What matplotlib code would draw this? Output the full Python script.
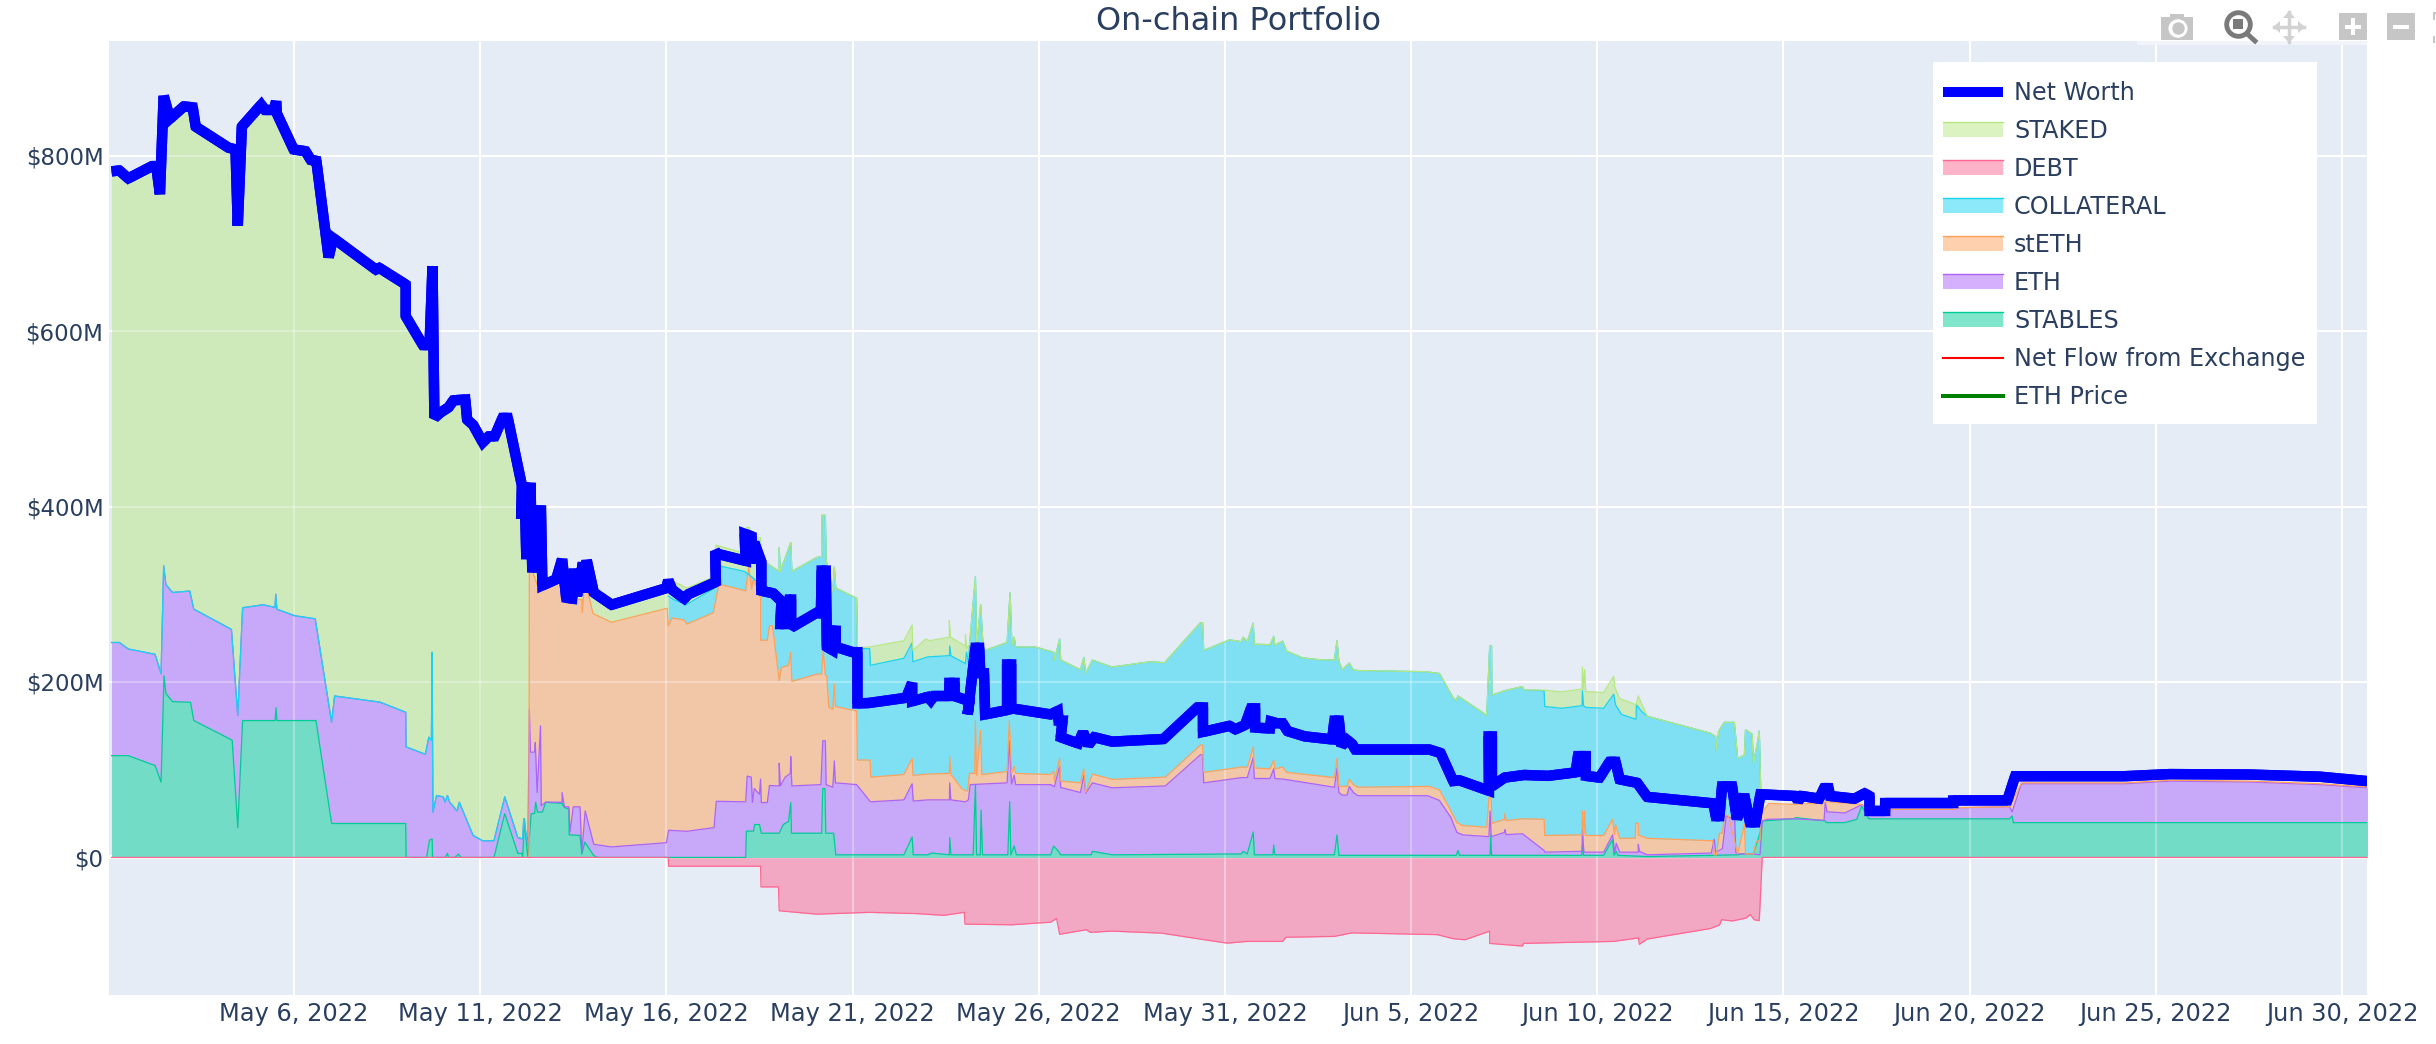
import numpy as np
import matplotlib
matplotlib.use('Agg')
import matplotlib.pyplot as plt
import matplotlib.dates as mdates
from matplotlib.legend_handler import HandlerBase
from matplotlib.lines import Line2D
from matplotlib.patches import Rectangle, Polygon

# all x values are days since May 1 2022, all y values are $M
net_worth_days = [0.1,0.31,0.55,1.19,1.3,1.4,1.5,1.67,2.04,2.28,2.36,3.24,3.43,3.49,3.6,4.12,4.22,4.46,4.52,4.54,4.99,5.31,5.45,5.6,5.93,6.05,7.2,7.29,8.0,8.0,8.46,8.64,8.72,8.77,8.93,9.15,9.28,9.6,9.65,9.81,10.07,10.23,10.39,10.6,10.74,11.12,11.1,11.19,11.24,11.35,11.4,11.48,11.54,11.63,11.67,12.04,12.2,12.31,12.47,12.52,12.6,12.76,12.84,12.86,13.05,13.53,15.0,15.05,15.16,15.48,15.59,16.33,16.31,16.38,17.13,17.1,17.29,17.29,17.36,17.55,17.55,17.87,18.09,18.06,18.17,18.3,18.35,18.35,19.04,19.15,19.17,19.28,19.31,19.47,19.55,19.55,20.0,20.13,20.13,20.43,21.44,21.6,21.6,22.02,22.1,22.18,22.6,22.6,22.74,22.74,23.14,23.09,23.3,23.4,23.43,23.53,23.56,24.15,24.15,24.26,24.26,25.32,25.51,25.53,25.64,25.59,26.06,26.19,26.33,26.49,26.97,28.35,29.26,29.41,29.41,30.12,30.28,30.54,30.7,30.81,30.81,31.21,31.23,31.39,31.55,31.68,32.14,32.88,32.94,33.06,33.13,33.28,33.42,33.5,35.49,35.79,36.13,36.29,37.09,37.08,37.17,37.17,37.51,38.04,38.68,39.42,39.48,39.69,39.69,40.06,40.33,40.49,40.6,41.07,41.34,43.12,43.18,43.28,43.35,43.62,43.75,43.94,44.1,44.25,44.38,45.33,45.39,45.49,45.96,46.09,46.21,46.25,46.91,47.18,47.31,47.31,47.73,47.73,49.56,49.56,51.01,51.22,54.17,55.37,57.51,59.41,60.68]
net_worth = [782,783,774,788,788,756,868,842,856,855,833,809,807,720,833,858,852,852,862,848,807,805,795,794,684,706,670,672,653,617,584,584,674,501,507,513,521,522,499,493,473,480,480,501,501,424,386,427,340,427,325,382,329,401,310,317,340,296,295,329,298,336,302,339,302,288,307,316,305,295,300,314,349,346,338,369,366,335,359,337,304,301,292,266,266,294,294,262,279,278,327,327,240,236,264,240,234,234,175.6,176,182,199,178,183,179,184,184,199,199,184,178,163,239,239,210,210,163,168,220,220,170,163,167,156,156,137,130,143,128,137,132,135,171,171,143,150,146,151,170,170,148,147,155,153,153,144,138,134.5,156,156,127,134,129,123,123,119,87,88,76,138,138,81,91,94,93,97,115.5,115.5,93,91,109,109,89,85,69,61.6,47,47,81,81,43.5,72,40,40,72,70,64,70,67,79,79,70,67,73,70,53,53,62,62,65,65,92.6,92.6,95,94.5,92,87]

# tops of the stacked bands
staked_days = [15.05,15.37,15.55,16.28,16.33,17.15,17.15,17.23,17.29,17.53,17.55,17.71,18.03,18.03,18.06,18.34,18.37,19.04,19.17,19.18,19.27,19.29,19.47,19.51,19.55,20.11,20.13,20.48,21.38,21.6,21.62,21.97,22.07,22.6,22.6,22.63,23.03,23.03,23.06,23.14,23.3,23.33,23.44,23.51,23.56,24.15,24.23,24.28,24.34,24.38,24.89,25.4,25.42,25.56,25.59,26.12,26.21,26.26,26.44,26.97,27.98,28.38,29.34,29.4,29.43,30.12,30.44,30.49,30.6,30.76,30.79,31.21,31.31,31.34,31.55,31.66,32.09,32.51,32.94,33.01,33.06,33.15,33.34,33.45,33.6,35.38,35.76,36.13,36.21,36.26,37.03,37.11,37.16,37.17,37.51,37.99,38.02,38.57,39.05,39.59,39.6,39.63,39.66,39.69,40.17,40.44,40.47,40.6,41.04,41.1,41.34,43.04,43.18,43.19,43.26,43.41,43.68,43.77,43.95,43.98,44.16,44.19,44.3,44.35,44.39,44.43]
staked_top = [316,311,307,320,356,346,376,376,362,364.5,337,335,326,353,326,359,326,342,343,390,390,339,303,331,307,295.5,239,240,247,265,236,249,247,251,270,251,241,254,238,242.5,320,240,288,238,236,245,301.5,242,251,240,240,234,225,249,225,214,228,210,225,217,223,222,267.5,267.5,236,248,246,251,246,267,243,242.5,252,242,246.5,235,227.5,225.5,225,247,223.5,214,221.5,213.6,213,211.7,209.7,182,179,184,162,241,241,185,190,194.7,191,190.7,188.7,192,217,192,214,189,188,206.5,194,181,174,184,161,141.6,137.7,122,144,154,154,112.8,116.7,145.6,140.5,106.8,130.6,144,75,61]

# stretches where the cyan band sits below the green one
collateral_days_a = [15.05,15.2,15.53,16.26,16.35,17.1,17.29,17.5]
collateral_top_a = [298,294,288,306,333,326,320,312]
collateral_days_b = [20.13,20.46,20.48,21.38,21.6,21.62,22.02,22.6,22.61,22.64,23.03,23.06,23.12]
collateral_top_b = [238,238,219,227,244.6,223,228.6,230,241,230,221,234,221]
collateral_days_c = [38.57,38.59,39.05,39.59,39.6,39.63,39.69,40.17,40.44,40.49,40.65,41.04,41.05,41.2]
collateral_top_c = [190,172,170,173,190,173,171,170,186,174,163,157.5,174,166]

steth_days = [11.31,11.32,11.54,12.04,12.2,12.29,12.73,12.74,12.81,13.03,13.53,15.02,15.05,15.16,15.48,15.55,16.26,16.41,17.13,17.21,17.29,17.34,17.53,17.53,17.71,17.77,17.85,18.03,18.09,18.28,18.34,18.37,19.04,19.17,19.21,19.27,19.31,19.36,19.47,19.51,19.54,20.11,20.13,20.47,20.49,21.38,21.6,21.62,22.02,22.6,22.61,22.64,22.93,23.03,23.09,23.14,23.28,23.3,23.33,23.44,23.47,24.15,24.21,24.27,24.34,24.38,25.32,25.4,25.42,25.56,25.59,26.12,26.21,26.26,26.44,26.97,28.4,29.34,29.4,29.43,30.12,30.44,30.6,30.76,30.79,31.21,31.31,31.34,31.55,31.66,32.94,33.01,33.06,33.28,33.34,33.45,33.57,35.49,35.76,36.02,36.23,36.39,37.03,37.09,37.15,37.17,37.51,37.52,37.55,37.99,38.57,38.59,39.59,39.6,39.64,39.66,39.69,40.17,40.41,40.46,40.49,40.6,41.02,41.03,41.1,41.1,41.34,43.1,43.15,43.2,43.28,43.36,43.41,43.52,43.77,43.95,43.98,44.19,44.27,44.37,44.38,44.61,45.27,46.09,46.12,47.1,47.29,47.85,49.62,49.66,51.07,51.39,54.17,55.37,57.51,59.41,60.68]
steth_top = [0,336,310,317,321,294,294,279,317,278,268,284,264,273,270.5,266,279,311.5,304,331,306,318,296,247.6,247.6,264,264,201.5,216.6,218.7,234,200.6,209,209,236,208,206,171,169,198,172,167,111,111,91.5,94.5,113,93.6,95,95.8,115,95,78.5,76,76,95.8,95.8,156,93.6,145,94.5,98,156,95.8,104,95.8,94.5,98,87,113,87,85,101,74,95,89,91.5,128,128,97,101,103,103,126,102,101,111,101,103,97,91,113,81,81,89,83,80,81,77,57,39.6,36.4,34.4,68,68,38.8,43.5,50.6,42,44,43.5,25,25.7,53,25.7,53,25,25,43.5,26,37.6,21.8,21.8,38.8,38.8,25.7,21.8,19,3,3,27.7,27.7,47.5,47.5,4,37.6,4,4,18,20,49,61.6,60.5,62,63.5,60.5,54.8,54.8,54.8,56.7,57.8,85,85,88,87,84,80.4]

eth_days = [0.1,0.31,0.55,1.27,1.43,1.5,1.56,1.74,2.2,2.31,3.32,3.49,3.62,4.17,4.49,4.51,4.54,5.02,5.57,6.01,6.09,7.31,8.0,8.01,8.53,8.62,8.69,8.71,8.73,8.83,9.01,9.06,9.12,9.18,9.38,9.44,9.81,10.07,10.37,10.66,11.01,11.14,11.17,11.28,11.32,11.35,11.46,11.48,11.53,11.62,11.64,11.76,12.2,12.2,12.26,12.38,12.41,12.5,12.68,12.73,12.82,13.05,13.53,15.0,15.06,15.55,16.28,16.34,17.13,17.17,17.28,17.31,17.36,17.5,17.53,17.55,17.71,17.77,18.03,18.03,18.06,18.19,18.33,18.34,18.37,19.15,19.2,19.27,19.29,19.47,19.51,19.54,20.11,20.48,21.38,21.6,21.63,22.02,22.6,22.61,22.64,23.03,23.11,23.16,24.15,24.21,24.27,24.34,24.38,25.32,25.42,25.56,25.59,26.12,26.21,26.26,26.44,26.97,28.4,29.34,29.4,29.43,30.12,30.44,30.6,30.76,30.79,31.21,31.31,31.34,31.61,32.94,33.01,33.06,33.15,33.28,33.34,33.45,33.57,35.44,35.76,36.07,36.23,36.39,37.09,37.12,37.15,37.51,37.52,37.55,37.99,38.57,38.59,39.59,39.6,39.64,39.69,40.17,40.41,40.47,40.51,40.6,41.1,41.1,41.13,41.34,43.06,43.14,43.18,43.36,43.46,43.69,43.72,43.77,44.19,44.37,44.43,44.57,45.27,46.09,46.12,46.17,46.65,47.03,47.1,47.29,47.85,49.62,49.66,51.07,51.14,51.39,54.17,55.37,57.51,59.41,60.68]
eth_top = [245,245,237.6,231.5,209.5,332.5,311,302,303.6,283,260,161.7,284.6,288,285,300,283,275.5,272,154,184,177,165.5,126,117.6,137,133.6,233.8,51.6,70.6,69,63,70.6,63,53,63,25,19,19,69,22.8,21,44,13.7,169,120,120,131,74,150,59,63,63,74,57.7,57.7,29,57.7,57.7,6,53,15,12,16.8,31,29.8,34,64,63.4,92.8,91.5,62.6,78.5,72,89.3,62.6,62.6,82,81.5,107.4,81.5,91.5,95.8,115,81.5,83,133,133,83,80,110,85,83,63.4,65.6,84,64.3,65.6,65.6,85,65.6,63.4,65.6,83,85,133,83.7,93.6,83,83,80.7,104,79.8,74,93.6,73,85,79.4,81.5,117,117,85,89,91,91,114,90,90,101,90,89,80,102,74,71,71,81,74,70.4,70.4,65,45.5,28.5,25.7,23.7,53,23.7,28.5,31.6,26,27,8,6,7,31.6,6,6,6,25.7,6,16,6,6,15,7,3,5,20.8,6,10,47,43.5,5.7,4,4,3,41.5,43.5,44,42.3,63,52,50.7,58.6,60.5,54.8,54.8,54.8,56.7,57.8,52,84,84,87,86,83,79.4]

stables_days = [0.1,0.55,1.27,1.43,1.51,1.56,1.74,2.22,2.31,3.34,3.49,3.62,4.49,4.52,4.54,5.59,6.01,8.0,8.01,8.56,8.64,8.71,8.72,9.06,9.12,9.15,9.33,9.41,9.49,10.37,10.66,11.01,11.12,11.14,11.19,11.22,11.28,11.37,11.46,11.49,11.54,11.67,11.76,12.2,12.26,12.38,12.39,12.68,12.73,12.81,13.05,13.16,17.13,17.15,17.34,17.37,17.5,17.55,18.03,18.14,18.28,18.34,18.36,19.17,19.2,19.26,19.28,19.49,19.55,21.38,21.6,21.63,22.02,22.13,22.6,22.61,22.64,23.24,23.3,23.33,23.43,23.45,23.49,24.17,24.22,24.25,24.34,24.4,25.32,25.4,25.53,25.59,26.41,26.44,26.97,29.87,30.44,30.49,30.6,30.76,30.79,31.29,31.31,31.34,32.94,33.01,33.06,36.21,36.26,36.3,37.12,37.14,37.16,39.58,39.6,39.63,40.17,40.41,40.45,40.51,40.55,41.34,43.77,43.89,44.19,44.32,44.38,44.44,45.27,45.33,46.12,46.15,46.65,46.97,47.1,47.29,51.07,51.14,51.17,60.68]
stables_top = [116,116,104.7,85.8,207,186.7,177.6,176.8,156,133.6,34,156,156,170.8,156,156,38.7,38.7,0,0,19.7,21,0,0,4.6,0,0,3.8,0,0,50,4.6,4.6,0,44,25,0,50,50,63,51.6,51.6,63,61.5,57,55,25.8,25,3.8,17.5,2,0,0,30,30,37.5,37.5,27.6,27.6,37.5,41,62.6,27.6,27.6,78.5,78.5,27.6,27.6,3,3,23.3,3,3,5,3,22.4,3,3,83,3,3,54,3,3,63.4,3,13,3,3,13,7,3,3,7,3,3.9,4,7,4,29,3,3,14,3,3,25.7,2.4,2.4,8,2.4,2.4,25.7,2.4,2.4,14,2.4,2.4,20.6,2.4,7,2.4,1,3,4,4,21,30,41.6,44,45.4,41.6,39.7,39.7,43.5,58.6,44,44,47.3,39.7,39.7]

debt_days = [0.1,15.05,15.06,17.53,17.54,18.01,18.03,19.04,20.43,21.7,22.45,23.0,23.02,24.26,25.32,25.48,25.56,26.28,26.38,26.97,28.3,29.32,30.06,30.6,31.55,31.64,32.94,33.41,35.7,36.13,36.45,37.11,37.11,37.99,38.02,40.44,41.1,41.13,41.34,43.04,43.28,43.34,43.63,44.0,44.11,44.21,44.35,44.43,60.68]
debt = [0,0,-10,-10,-33.6,-33.6,-60.8,-64.7,-62.6,-64,-66,-62.6,-76,-76.8,-73.8,-69.5,-87.6,-82.4,-85.4,-84,-86.3,-93,-97.7,-95.7,-95.7,-91,-90,-86,-88,-92.6,-93.8,-84,-98,-101,-98,-95.7,-91.8,-99,-93,-81,-77,-71,-72.4,-69,-65,-71,-72,0,0]

tick_days = [5,10,15,20,25,30,35,40,45,50,55,60]
tick_labels = ['May 6, 2022','May 11, 2022','May 16, 2022','May 21, 2022','May 26, 2022','May 31, 2022',
               'Jun 5, 2022','Jun 10, 2022','Jun 15, 2022','Jun 20, 2022','Jun 25, 2022','Jun 30, 2022']
y_ticks = [0,200,400,600,800]
y_labels = ['$0','$200M','$400M','$600M','$800M']

BG = '#E5ECF6'
TEXT = '#2a3f5f'
W, H = 2436, 1044
base = mdates.date2num(np.datetime64('2022-05-01'))


def piece(days, vals, a, b):
    days = np.array(days)
    keep = (days >= a) & (days <= b)
    return list(days[keep]), list(np.array(vals)[keep])


def mix(color, under=BG):
    # plotly fills at half opacity
    return tuple((np.array(matplotlib.colors.to_rgb(color)) + np.array(matplotlib.colors.to_rgb(under))) / 2)


def band(ax, days, top, color):
    ax.fill_between(base + np.array(days), 0, top, color=mix(color), lw=0, zorder=2)


def split_sharp(ax, x, y):
    # the browser falls back to a bevel below 60 degrees: break the path there
    p = ax.transData.transform(np.column_stack([x, y]))
    xs, ys = [x[0]], [y[0]]
    for i in range(1, len(x)):
        xs.append(x[i])
        ys.append(y[i])
        if i < len(x) - 1:
            a = p[i - 1] - p[i]
            b = p[i + 1] - p[i]
            n = np.hypot(*a) * np.hypot(*b)
            if n > 0 and np.dot(a, b) / n > 0.5:
                xs += [np.nan, x[i]]
                ys += [np.nan, y[i]]
    return xs, ys


class BandHandler(HandlerBase):
    def create_artists(self, legend, orig, xd, yd, width, height, fontsize, trans):
        rect = Rectangle((-xd, -yd), width, height, facecolor=orig.get_facecolor(), lw=0, transform=trans)
        top = Line2D([-xd, width - xd], [height - yd] * 2, color=orig.get_edgecolor(), lw=1.0, transform=trans)
        return [rect, top]


fig = plt.figure(figsize=(W / 100, H / 100), dpi=100)
ax = fig.add_axes([109 / W, 1 - 995 / H, (2367 - 109) / W, (995 - 41) / H], facecolor=BG)
ax.set_xlim(base + 0.032, base + 60.67)
ax.set_ylim(-156.8, 930.6)

# stacked bands, painted from the tallest down
d1, v1 = piece(net_worth_days, net_worth, 0, 15.0)
full_staked = (d1 + staked_days, v1 + staked_top)
da, va = piece(staked_days, staked_top, 17.55, 20.11)
db, vb = piece(staked_days, staked_top, 23.14, 38.55)
dc, vc = piece(staked_days, staked_top, 41.3, 44.43)
full_collateral = (collateral_days_a + da + collateral_days_b + db + collateral_days_c + dc,
                   collateral_top_a + va + collateral_top_b + vb + collateral_top_c + vc)
band(ax, *full_staked, '#B6E880')
band(ax, *full_collateral, '#19D3F3')
band(ax, steth_days, steth_top, '#FFA15A')
band(ax, eth_days, eth_top, '#AB63FA')
band(ax, stables_days, stables_top, '#00CC96')

# edges go after all fills so the upper series wins where bands have no thickness
for (dd, vv), c in [((stables_days, stables_top), '#00CC96'), ((eth_days, eth_top), '#AB63FA'),
                    ((steth_days, steth_top), '#FFA15A'), (full_collateral, '#19D3F3'), (full_staked, '#B6E880')]:
    ax.plot(base + np.array(dd), vv, color=c, lw=0.9, zorder=2.1)
early_d, early_v = piece(eth_days, eth_top, 0, 11.3)
ax.plot(base + np.array(early_d), early_v, color='#19D3F3', lw=0.9, zorder=2.1)

ax.fill_between(base + np.array(debt_days), 0, debt, color='#FF6692', alpha=0.5, lw=0, zorder=2)
ax.plot(base + np.array(debt_days), debt, color='#FF6692', lw=0.9, zorder=2.1)

# gridlines shine through the half transparent fills
for t in tick_days:
    ax.axvline(base + t, color='white', lw=1.5, alpha=0.3, zorder=2.05)
for t in y_ticks[1:]:
    ax.axhline(t, color='white', lw=1.5, alpha=0.3, zorder=2.05)
ax.axhline(0, color='white', lw=3, zorder=1.5)

nw_x = base + np.array(net_worth_days)
ax.plot(nw_x, net_worth, color='#0000FF', lw=7.5, zorder=3, solid_joinstyle='bevel', solid_capstyle='butt')
sx, sy = split_sharp(ax, list(nw_x), net_worth)
ax.plot(sx, sy, color='#0000FF', lw=7.5, zorder=3, solid_joinstyle='miter', solid_capstyle='butt')

ax.set_xticks(base + np.array(tick_days), tick_labels)
ax.set_yticks(y_ticks, y_labels)
ax.tick_params(length=0, labelcolor=TEXT)
ax.tick_params(axis='x', labelsize=17.4, pad=5)
ax.tick_params(axis='y', labelsize=16.5, pad=4)
ax.grid(color='white', lw=1.5, zorder=1)
ax.set_axisbelow(True)
for s in ax.spines.values():
    s.set_visible(False)
fig.text(1238 / W, 1 - 21 / H, 'On-chain Portfolio', ha='center', va='center', fontsize=23, color=TEXT)


# plotly modebar and legend box, drawn in figure pixels
def px(x, y):
    return x / W, 1 - y / H


def add_rect(x0, y0, x1, y1, color, z=6):
    fig.add_artist(Rectangle(px(x0, y1), (x1 - x0) / W, (y1 - y0) / H, color=color, lw=0, transform=fig.transFigure, zorder=z))


add_rect(1933, 62, 2317, 424, 'white', z=4)

handles = [Line2D([], [], color='#0000FF', lw=7.2, solid_capstyle='butt')]
labels = ['Net Worth']
for name, c in [('STAKED', '#B6E880'), ('DEBT', '#FF6692'), ('COLLATERAL', '#19D3F3'),
                ('stETH', '#FFA15A'), ('ETH', '#AB63FA'), ('STABLES', '#00CC96')]:
    handles.append(Rectangle((0, 0), 1, 1, facecolor=mix(c, 'white'), edgecolor=c))
    labels.append(name)
handles.append(Line2D([], [], color='red', lw=1.5))
labels.append('Net Flow from Exchange')
handles.append(Line2D([], [], color='green', lw=2.9))
labels.append('ETH Price')
leg = fig.legend(handles, labels, loc='upper left', bbox_to_anchor=(1933 / W, 1 - 71 / H), borderaxespad=0,
                 fontsize=17.2, labelcolor=TEXT, frameon=False,
                 borderpad=0.42, labelspacing=0.586, handlelength=2.51, handleheight=0.55,
                 handletextpad=0.46, handler_map={Rectangle: BandHandler()})
leg.set_zorder(5)

GREY = '#c6c6c6'
add_rect(2137, 41, 2367, 45, '#f1f4fa')
add_rect(2161, 17, 2193, 40, GREY)
add_rect(2170, 14, 2184, 18, GREY)
fig.add_artist(Line2D(*zip(px(2177, 28), px(2177.5, 28)), color='white', lw=0, marker='o', ms=11, mfc=GREY, mec='white', mew=2, transform=fig.transFigure, zorder=7))
fig.add_artist(Line2D(*zip(px(2244, 31), px(2255, 41)), color='#7a7a7a', lw=3.5, transform=fig.transFigure, zorder=7))
fig.add_artist(Line2D([px(2238, 24)[0]], [px(2238, 24)[1]], marker='o', ms=17, mfc='#ffffff', mec='#7a7a7a', mew=3.5, transform=fig.transFigure, zorder=7))
add_rect(2233, 19, 2243, 29, '#7a7a7a', z=8)
fig.add_artist(Line2D(*zip(px(2274, 27), px(2304, 27)), color='#d2d2d2', lw=2.5, transform=fig.transFigure, zorder=7))
fig.add_artist(Line2D(*zip(px(2289, 12), px(2289, 42)), color='#d2d2d2', lw=2.5, transform=fig.transFigure, zorder=7))
for tri in [[(2289, 11), (2283, 18), (2295, 18)], [(2289, 43), (2283, 36), (2295, 36)],
            [(2273, 27), (2280, 21), (2280, 33)], [(2305, 27), (2298, 21), (2298, 33)]]:
    fig.add_artist(Polygon([px(*p) for p in tri], color='#d2d2d2', lw=0, transform=fig.transFigure, zorder=7))
add_rect(2339, 13, 2367, 40, GREY)
add_rect(2351, 18, 2355, 35, 'white', z=7)
add_rect(2345, 25, 2361, 29, 'white', z=7)
add_rect(2387, 13, 2415, 40, GREY)
add_rect(2393, 25, 2409, 29, 'white', z=7)
add_rect(2433, 12, 2436, 14, GREY)
add_rect(2433, 12, 2434.5, 20, GREY)
add_rect(2433, 36, 2434.5, 43, GREY)

fig.savefig('out.png', dpi=100, facecolor='white')
